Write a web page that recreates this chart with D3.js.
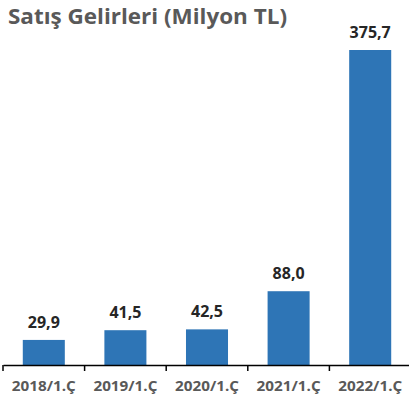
<!DOCTYPE html>
<html>
<head>
<meta charset="utf-8">
<script src="https://cdn.jsdelivr.net/npm/d3@7"></script>
<style>
  body { margin: 0; background: #fff; }
  svg { display: block; font-family: "Open Sans", "Noto Sans", sans-serif; }
</style>
</head>
<body>
<div id="chart"></div>
<script>
// veriler
const categories = ['2018/1.Ç', '2019/1.Ç', '2020/1.Ç', '2021/1.Ç', '2022/1.Ç'];
const values = [29.9, 41.5, 42.5, 88.0, 375.7];
const title = 'Satış Gelirleri (Milyon TL)';

const width = 409;
const height = 408;
const margin = {top: 50, right: -2, bottom: 43, left: 3};
const innerW = width - margin.left - margin.right;
const innerH = height - margin.top - margin.bottom;

const svg = d3.select('#chart')
  .append('svg')
  .attr('width', width)
  .attr('height', height);

// başlık
svg.append('text')
  .attr('x', 8)
  .attr('y', 24)
  .attr('fill', '#595959')
  .style('font-size', '21px')
  .style('font-weight', 'bold')
  .attr('textLength', 279)
  .attr('lengthAdjust', 'spacingAndGlyphs')
  .text(title);

const g = svg.append('g')
  .attr('transform', `translate(${margin.left},${margin.top})`);

const x = d3.scaleBand()
  .domain(categories)
  .range([0, innerW])
  .paddingInner(0.485)
  .paddingOuter(0.2425);

const y = d3.scaleLinear()
  .domain([0, 375.7])
  .range([innerH, 0]);

// çubuklar
g.selectAll('rect')
  .data(values)
  .enter()
  .append('rect')
  .attr('x', (d, i) => x(categories[i]))
  .attr('y', d => y(d))
  .attr('width', x.bandwidth())
  .attr('height', d => innerH - y(d))
  .attr('fill', '#2e75b6');

// değer etiketleri
g.selectAll('.val')
  .data(values)
  .enter()
  .append('text')
  .attr('class', 'val')
  .attr('x', (d, i) => x(categories[i]) + x.bandwidth() / 2)
  .attr('y', d => y(d) - 12)
  .attr('text-anchor', 'middle')
  .attr('fill', '#262626')
  .style('font-size', '16px')
  .style('font-weight', 'bold')
  .text(d => d.toFixed(1).replace('.', ','));

// x ekseni
const xAxis = d3.axisBottom(x)
  .tickSize(0)
  .tickPadding(16);

const ax = g.append('g')
  .attr('transform', `translate(0,${innerH})`)
  .call(xAxis);

ax.select('.domain')
  .attr('stroke', '#000')
  .attr('stroke-width', 1.5);

ax.selectAll('.tick text')
  .attr('fill', '#595959')
  .style('font-size', '14px')
  .style('font-weight', 'bold')
  .style('font-family', '"Open Sans", sans-serif')
  .attr('textLength', 64)
  .attr('lengthAdjust', 'spacingAndGlyphs');

// kategori sınır çizgileri
const step = x.step();
ax.selectAll('.sep')
  .data(d3.range(categories.length + 1))
  .enter()
  .append('line')
  .attr('class', 'sep')
  .attr('x1', i => i * step)
  .attr('x2', i => i * step)
  .attr('y1', 0)
  .attr('y2', 6)
  .attr('stroke', '#000')
  .attr('stroke-width', 1.5);
</script>
</body>
</html>
